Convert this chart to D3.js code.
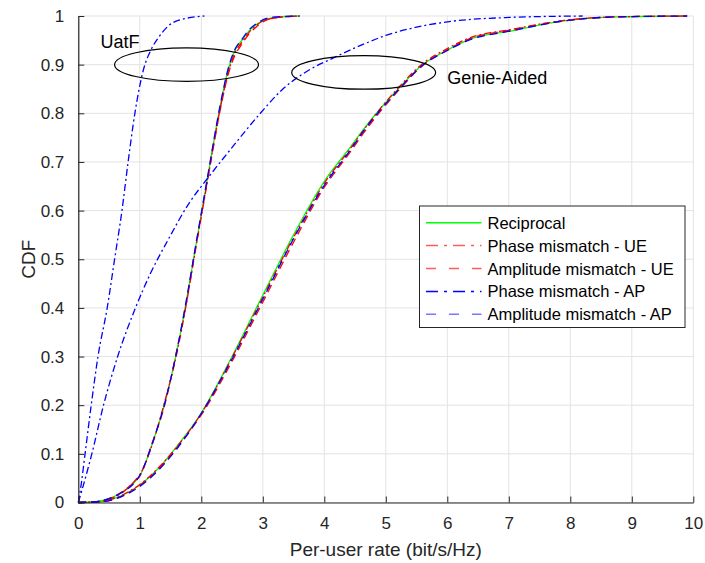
<!DOCTYPE html>
<html>
<head>
<meta charset="utf-8">
<script src="https://cdn.jsdelivr.net/npm/d3@7"></script>
<style>
  html, body { margin: 0; padding: 0; background: #fff; }
  svg { display: block; }
  text { font-family: "Liberation Sans", Arial, Helvetica, sans-serif; fill: #262626; }
</style>
</head>
<body>
<svg id="chart" width="705" height="563"></svg>
<script>
// ---- Data: per-user rate CDFs (bit/s/Hz) ----
const seriesNames = ["Reciprocal", "Phase mismatch - UE", "Amplitude mismatch - UE", "Phase mismatch - AP", "Amplitude mismatch - AP"];

// UatF (use-and-then-forget) bound
const uatfRate = [0, 0.3, 0.5, 0.7, 0.9, 1.0, 1.2, 1.4, 1.6, 1.76, 1.9, 2.1, 2.2, 2.3, 2.46, 2.55, 2.66, 2.78, 2.87, 3.0, 3.2, 3.6];
const uatfReciprocal = [0, 0.002, 0.008, 0.02, 0.04, 0.055, 0.12, 0.2, 0.31, 0.416, 0.52, 0.666, 0.74, 0.81, 0.9, 0.93, 0.95, 0.97, 0.98, 0.99, 0.997, 1];
const uatfPhaseUE    = [0, 0.002, 0.007, 0.019, 0.042, 0.057, 0.118, 0.205, 0.305, 0.41, 0.515, 0.66, 0.735, 0.805, 0.893, 0.925, 0.946, 0.967, 0.978, 0.99, 0.996, 1];
const uatfAmpUE      = [0, 0.001, 0.008, 0.021, 0.041, 0.054, 0.122, 0.198, 0.312, 0.412, 0.518, 0.662, 0.733, 0.802, 0.89, 0.92, 0.942, 0.964, 0.975, 0.988, 0.996, 1];
const uatfAmpAP      = [0, 0.002, 0.008, 0.02, 0.039, 0.056, 0.12, 0.202, 0.31, 0.418, 0.522, 0.668, 0.742, 0.812, 0.902, 0.932, 0.952, 0.972, 0.982, 0.992, 0.998, 1];
const uatfPhaseAPRate = [0, 0.05, 0.11, 0.21, 0.32, 0.47, 0.59, 0.71, 0.81, 0.92, 1.06, 1.18, 1.3, 1.45, 1.6, 2.05];
const uatfPhaseAP     = [0, 0.04, 0.1, 0.2, 0.3, 0.4, 0.5, 0.6, 0.7, 0.8, 0.89, 0.93, 0.955, 0.978, 0.99, 1];

// Genie-aided bound
const genieRate = [0, 0.3, 0.5, 0.8, 1.0, 1.3, 1.6, 2.0, 2.5, 2.96, 3.5, 4.0, 4.42, 4.63, 5.2, 5.6, 6.0, 6.32, 7.07, 7.9, 8.7, 9.9];
const genieReciprocal = [0, 0.001, 0.005, 0.02, 0.036, 0.07, 0.115, 0.184, 0.3, 0.416, 0.55, 0.66, 0.73, 0.766, 0.85, 0.9, 0.93, 0.95, 0.97, 0.99, 0.998, 1];
const geniePhaseUE    = [0, 0.001, 0.005, 0.021, 0.037, 0.071, 0.114, 0.183, 0.298, 0.412, 0.545, 0.656, 0.727, 0.764, 0.852, 0.902, 0.933, 0.953, 0.973, 0.991, 0.998, 1];
const genieAmpUE      = [0, 0.001, 0.004, 0.019, 0.035, 0.068, 0.112, 0.18, 0.29, 0.402, 0.535, 0.648, 0.72, 0.758, 0.846, 0.898, 0.93, 0.951, 0.972, 0.99, 0.998, 1];
const genieAmpAP      = [0, 0.001, 0.004, 0.018, 0.033, 0.066, 0.11, 0.183, 0.295, 0.408, 0.542, 0.652, 0.724, 0.762, 0.848, 0.899, 0.929, 0.949, 0.97, 0.99, 0.998, 1];
const geniePhaseAPRate = [0, 0.07, 0.22, 0.41, 0.64, 0.93, 1.17, 1.46, 1.8, 2.10, 2.47, 2.96, 3.31, 3.7, 4.15, 4.6, 5.0, 5.5, 6.0, 7.0, 8.2];
const geniePhaseAP     = [0, 0.03, 0.1, 0.2, 0.3, 0.4, 0.47, 0.54, 0.615, 0.666, 0.725, 0.80, 0.848, 0.885, 0.914, 0.94, 0.96, 0.977, 0.988, 0.997, 1];

// Axis ticks
const xTicks = [0, 1, 2, 3, 4, 5, 6, 7, 8, 9, 10];
const yTicks = [0, 0.1, 0.2, 0.3, 0.4, 0.5, 0.6, 0.7, 0.8, 0.9, 1];

// Grouping annotations: label, ellipse centre (rate, CDF)
const groupLabels = ["UatF", "Genie-Aided"];
const groupCentreRate = [1.76, 4.64];
const groupCentreCdf = [0.9, 0.884];

// ---- Styles ----
const seriesColor = ["#00ff00", "#ff0000", "#ff0000", "#0000ff", "#0000ff"];
const legendColor = ["#00ff00", "#ff5c5c", "#ff5c5c", "#0000ff", "#7878ff"];
const plotDash = [null, "7,3,2,3", "8,5", "7,3,2,3", "8,5"];
const legendDash = [null, "12,6,3,6", "10,13", "12,6,3,6", "10,13"];

const curves = [
  { s: 0, x: uatfRate, y: uatfReciprocal },
  { s: 0, x: genieRate, y: genieReciprocal },
  { s: 1, x: uatfRate, y: uatfPhaseUE },
  { s: 1, x: genieRate, y: geniePhaseUE },
  { s: 2, x: uatfRate, y: uatfAmpUE },
  { s: 2, x: genieRate, y: genieAmpUE },
  { s: 3, x: uatfPhaseAPRate, y: uatfPhaseAP },
  { s: 3, x: geniePhaseAPRate, y: geniePhaseAP },
  { s: 4, x: uatfRate, y: uatfAmpAP },
  { s: 4, x: genieRate, y: genieAmpAP }
];

// ---- Layout ----
const W = 705, H = 563;
const margin = { left: 78.3, right: 11.7, top: 16, bottom: 60.5 };
const plotW = W - margin.left - margin.right;
const plotH = H - margin.top - margin.bottom;

const svg = d3.select("#chart");
const g = svg.append("g").attr("transform", `translate(${margin.left},${margin.top})`);

const x = d3.scaleLinear().domain([0, 10]).range([0, plotW]);
const y = d3.scaleLinear().domain([0, 1]).range([plotH, 0]);

// Grid
g.append("g").selectAll("line").data(xTicks).join("line")
  .attr("x1", d => x(d)).attr("x2", d => x(d)).attr("y1", 0).attr("y2", plotH)
  .attr("stroke", "#e3e3e3").attr("stroke-width", 1);
g.append("g").selectAll("line").data(yTicks).join("line")
  .attr("y1", d => y(d)).attr("y2", d => y(d)).attr("x1", 0).attr("x2", plotW)
  .attr("stroke", "#e3e3e3").attr("stroke-width", 1);

// Curves
const line = d3.line()
  .x(d => d[0]).y(d => d[1])
  .curve(d3.curveMonotoneX);

curves.forEach(c => {
  const pts = c.x.map((v, i) => [x(v), y(c.y[i])]);
  g.append("path")
    .attr("d", line(pts))
    .attr("fill", "none")
    .attr("stroke", seriesColor[c.s])
    .attr("stroke-width", 1.3)
    .attr("stroke-dasharray", plotDash[c.s]);
});

// Grouping ellipses and labels
groupLabels.forEach((lab, i) => {
  g.append("ellipse")
    .attr("cx", x(groupCentreRate[i])).attr("cy", y(groupCentreCdf[i]))
    .attr("rx", x(1.17) - x(0)).attr("ry", y(0) - y(0.0345))
    .attr("fill", "none").attr("stroke", "#000").attr("stroke-width", 1.2);
});
g.append("text").attr("x", x(0.36)).attr("y", y(0.9) - 17)
  .attr("font-size", 18).style("fill", "#000").text(groupLabels[0]);
g.append("text").attr("x", x(6.0)).attr("y", y(0.884) + 12)
  .attr("font-size", 18).style("fill", "#000").text(groupLabels[1]);

// Axes
const xAxis = d3.axisBottom(x).tickValues(xTicks).tickFormat(d3.format("d")).tickSizeInner(-6).tickSizeOuter(0).tickPadding(14);
const yAxis = d3.axisLeft(y).tickValues(yTicks).tickFormat(d => d === 0 || d === 1 ? String(d) : d3.format(".1f")(d)).tickSizeInner(-6).tickSizeOuter(0).tickPadding(14);

const gx = g.append("g").attr("transform", `translate(0,${plotH})`).call(xAxis);
const gy = g.append("g").call(yAxis);
[gx, gy].forEach(a => {
  a.select(".domain").attr("stroke", "#262626").attr("stroke-width", 1.2);
  a.selectAll(".tick line").attr("stroke", "#262626").attr("stroke-width", 1);
  a.selectAll(".tick text").attr("font-size", 17).attr("font-family", "Liberation Sans, Arial, sans-serif").style("fill", "#262626");
});

// Axis labels
svg.append("text").attr("x", margin.left + plotW / 2).attr("y", 556)
  .attr("text-anchor", "middle").attr("font-size", 19).text("Per-user rate (bit/s/Hz)");
svg.append("text").attr("transform", `translate(35,${margin.top + plotH / 2}) rotate(-90)`)
  .attr("text-anchor", "middle").attr("font-size", 19).text("CDF");

// Legend
const lg = svg.append("g").attr("transform", "translate(419.5,206)");
lg.append("rect").attr("width", 265.5).attr("height", 121.5)
  .attr("fill", "#fff").attr("stroke", "#262626").attr("stroke-width", 1);
seriesNames.forEach((name, i) => {
  const cy = 16.7 + i * 22.9;
  lg.append("line").attr("x1", 6.5).attr("x2", 62).attr("y1", cy).attr("y2", cy)
    .attr("stroke", legendColor[i]).attr("stroke-width", 1.5)
    .attr("stroke-dasharray", legendDash[i]);
  lg.append("text").attr("x", 68).attr("y", cy + 6)
    .attr("font-size", 16.5).style("fill", "#000").text(name);
});
</script>
</body>
</html>
